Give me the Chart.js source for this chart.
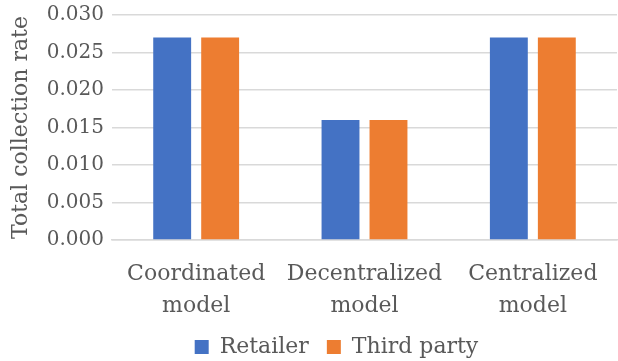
<!DOCTYPE html>
<html>
<head>
<meta charset="utf-8">
<script src="https://cdn.jsdelivr.net/npm/chart.js@4"></script>
<style>
  html, body { margin: 0; padding: 0; background: #fff; }
  #wrap { width: 618px; height: 361px; }
</style>
</head>
<body>
<div id="wrap"><canvas id="chart" width="618" height="361"></canvas></div>
<script>
const categories = [['Coordinated', 'model'], ['Decentralized', 'model'], ['Centralized', 'model']];
const seriesNames = ['Retailer', 'Third party'];
const retailerValues = [0.027, 0.016, 0.027];
const thirdPartyValues = [0.027, 0.016, 0.027];
const yTicks = [0, 0.005, 0.010, 0.015, 0.020, 0.025, 0.030];

const fontFamily = "'DejaVu Serif', serif";
const textColor = '#595959';
const gridColor = '#d9d9d9';

// legend in the reference sits a bit right of the canvas centre
const legendShift = {
    id: 'legendShift',
    afterLayout(chart) {
        if (chart.legend) {
            chart.legend.left += 28;
            chart.legend.right += 28;
        }
    }
};

const ctx = document.getElementById('chart');
new Chart(ctx, {
    type: 'bar',
    data: {
        labels: categories,
        datasets: [{
            label: seriesNames[0],
            data: retailerValues,
            backgroundColor: '#4472C4',
            categoryPercentage: 0.57,
            barPercentage: 0.79
        }, {
            label: seriesNames[1],
            data: thirdPartyValues,
            backgroundColor: '#ED7D31',
            categoryPercentage: 0.57,
            barPercentage: 0.79
        }]
    },
    plugins: [legendShift],
    options: {
        responsive: false,
        animation: false,
        layout: {
            padding: { top: 15, right: 1, bottom: -7, left: 0 }
        },
        plugins: {
            legend: {
                position: 'bottom',
                labels: {
                    color: textColor,
                    font: { family: fontFamily, size: 22 },
                    boxWidth: 14,
                    boxHeight: 14,
                    padding: 18
                }
            },
            tooltip: { enabled: false }
        },
        scales: {
            y: {
                min: 0,
                max: 0.030,
                afterBuildTicks: function(axis) {
                    axis.ticks = yTicks.map(v => ({ value: v }));
                },
                afterFit: function(axis) {
                    axis.width = 112;
                    axis.paddingTop = 0;
                },
                ticks: {
                    color: textColor,
                    font: { family: fontFamily, size: 20 },
                    padding: 8,
                    callback: v => v.toFixed(3)
                },
                grid: {
                    color: gridColor,
                    lineWidth: 1.5,
                    drawTicks: false
                },
                border: { display: false },
                title: {
                    display: true,
                    text: 'Total collection rate',
                    color: textColor,
                    font: { family: fontFamily, size: 22 },
                    padding: { top: 8, bottom: 0 }
                }
            },
            x: {
                afterFit: function(axis) {
                    axis.height = 78;
                },
                ticks: {
                    color: textColor,
                    font: { family: fontFamily, size: 22, lineHeight: 1.42 },
                    padding: 19,
                    maxRotation: 0
                },
                grid: { display: false, drawTicks: false },
                border: { color: gridColor, width: 1.5 }
            }
        }
    }
});
</script>
</body>
</html>
